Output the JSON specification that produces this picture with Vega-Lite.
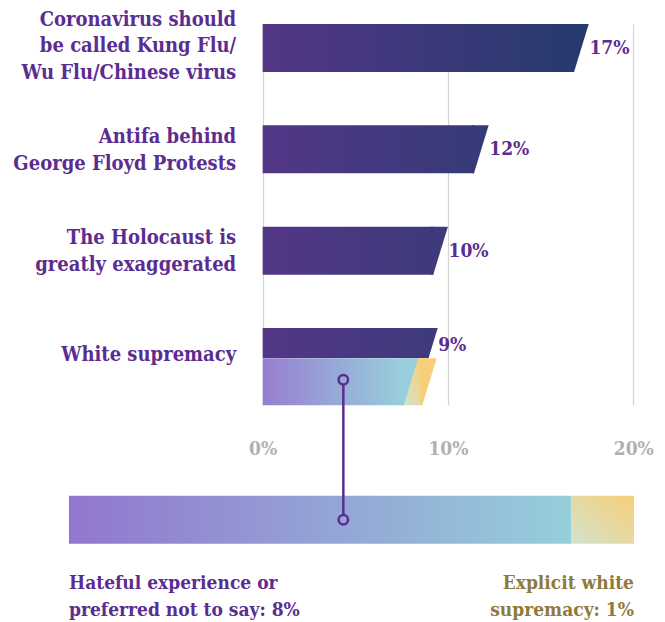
{
  "$schema": "https://vega.github.io/schema/vega-lite/v6.json",
  "background": "white",
  "padding": {"left": 5, "top": 9, "right": 5, "bottom": 5},
  "config": {"font": "DejaVu Serif Condensed", "view": {"stroke": null}},
  "bounds": "flush",
  "spacing": 90.7,
  "datasets": {
    "beliefs": [
      {"statement": "Coronavirus should\nbe called Kung Flu/\nWu Flu/Chinese virus", "pct": 17.2, "label": "17%"},
      {"statement": "Antifa behind\nGeorge Floyd Protests", "pct": 11.8, "label": "12%"},
      {"statement": "The Holocaust is\ngreatly exaggerated", "pct": 9.6, "label": "10%"},
      {"statement": "White supremacy", "pct": 9.2, "label": "9%"}
    ],
    "breakdown": [
      {"segment": "Hateful experience or preferred not to say", "pct": 8, "label": "Hateful experience or\npreferred not to say: 8%"},
      {"segment": "Explicit white supremacy", "pct": 1, "label": "Explicit white\nsupremacy: 1%"}
    ]
  },
  "vconcat": [
    {
      "width": 629,
      "height": 381,
      "layer": [
        {
          "data": {"name": "beliefs"},
          "transform": [{"filter": "datum.statement !== 'White supremacy'"}],
          "mark": {"type": "bar", "height": 48, "yOffset": -14.5, "xOffset": -7.3},
          "encoding": {
            "y": {
              "field": "statement", "type": "nominal", "sort": null,
              "scale": {
                "domain": ["Coronavirus should\nbe called Kung Flu/\nWu Flu/Chinese virus", "Antifa behind\nGeorge Floyd Protests", "The Holocaust is\ngreatly exaggerated", "White supremacy"],
                "paddingInner": 0.239, "paddingOuter": 0
              },
              "axis": {
                "orient": "left", "offset": -257.7, "title": null, "domain": false, "ticks": false,
                "labelPadding": 27, "labelFontSize": 20, "labelFontWeight": "bold", "labelColor": "#5b2d90",
                "labelLimit": 400, "labelLineHeight": 26.7,
                "labelOffset": {"condition": [
                  {"test": "length(split(datum.label, '\\n')) == 3", "value": -42.8},
                  {"test": "length(split(datum.label, '\\n')) == 2", "value": -27}
                ], "value": -11},
                "labelExpr": "split(datum.label, '\\n')"
              }
            },
            "x": {
              "field": "pct", "type": "quantitative",
              "scale": {"domain": [-13.907, 20.04], "nice": false, "zero": false},
              "axis": {
                "values": [0, 10, 20], "labelExpr": "datum.value + '%'", "title": null,
                "domain": false, "ticks": false, "grid": true, "gridColor": "#d4d4d4", "gridWidth": 1.2,
                "labelColor": "#b0b0b0", "labelFontSize": 19, "labelFontWeight": "bold", "labelPadding": 34, "labelFlush": false
              }
            },
            "x2": {"datum": 0},
            "color": {
              "condition": [
                {"test": "datum.pct > 15", "value": {"gradient": "linear", "x1": 0, "y1": 0, "x2": 1, "y2": 0, "stops": [{"offset": 0, "color": "#533687"}, {"offset": 1, "color": "#273a6e"}]}},
                {"test": "datum.pct > 11", "value": {"gradient": "linear", "x1": 0, "y1": 0, "x2": 1, "y2": 0, "stops": [{"offset": 0, "color": "#533687"}, {"offset": 1, "color": "#363b78"}]}}
              ],
              "value": {"gradient": "linear", "x1": 0, "y1": 0, "x2": 1, "y2": 0, "stops": [{"offset": 0, "color": "#533687"}, {"offset": 1, "color": "#3e3a7b"}]}
            }
          }
        },
        {
          "data": {"name": "beliefs"},
          "transform": [{"filter": "datum.statement !== 'White supremacy'"}],
          "mark": {"type": "point", "shape": "M-0.4,-1L0.306,-1L-0.306,1L-0.4,1Z", "size": 2304, "filled": true, "opacity": 1, "strokeWidth": 0, "yOffset": -14.5},
          "encoding": {
            "y": {"field": "statement", "type": "nominal"},
            "x": {"field": "pct", "type": "quantitative"},
            "color": {
              "condition": [
                {"test": "datum.pct > 15", "value": "#273a6e"},
                {"test": "datum.pct > 11", "value": "#363b78"}
              ],
              "value": "#3e3a7b"
            }
          }
        },
        {
          "data": {"name": "beliefs"},
          "transform": [{"filter": "datum.statement === 'White supremacy'"}],
          "mark": {"type": "bar", "height": 30, "yOffset": -23.4, "xOffset": -4.6,
            "color": {"gradient": "linear", "x1": 0, "y1": 0, "x2": 1, "y2": 0, "stops": [{"offset": 0, "color": "#533687"}, {"offset": 1, "color": "#3f3a7b"}]}},
          "encoding": {
            "y": {"field": "statement", "type": "nominal"},
            "x": {"field": "pct", "type": "quantitative"},
            "x2": {"datum": 0}
          }
        },
        {
          "data": {"name": "beliefs"},
          "transform": [{"filter": "datum.statement === 'White supremacy'"}],
          "mark": {"type": "point", "shape": "M-0.4,-1L0.306,-1L-0.306,1L-0.4,1Z", "size": 900, "filled": true, "opacity": 1, "strokeWidth": 0, "yOffset": -23.4, "color": "#3f3a7b"},
          "encoding": {
            "y": {"field": "statement", "type": "nominal"},
            "x": {"field": "pct", "type": "quantitative"}
          }
        },
        {
          "data": {"name": "breakdown"},
          "transform": [
            {"stack": "pct", "groupby": [], "as": ["p0", "p1"]},
            {"filter": "datum.segment === 'Explicit white supremacy'"}
          ],
          "mark": {"type": "bar", "height": 47, "yOffset": 15.2, "xOffset": -7.2, "x2Offset": -7.2,
            "color": {"gradient": "linear", "x1": 0, "y1": 1, "x2": 1, "y2": 0, "stops": [{"offset": 0, "color": "#d2e3cd"}, {"offset": 1, "color": "#f8cf77"}]}},
          "encoding": {
            "y": {"datum": "White supremacy", "type": "nominal"},
            "x": {"field": "p1", "type": "quantitative"},
            "x2": {"field": "p0"}
          }
        },
        {
          "data": {"name": "breakdown"},
          "transform": [
            {"stack": "pct", "groupby": [], "as": ["p0", "p1"]},
            {"filter": "datum.segment !== 'Explicit white supremacy'"}
          ],
          "mark": {"type": "bar", "height": 47, "yOffset": 15.2, "xOffset": -7.2,
            "color": {"gradient": "linear", "x1": 0, "y1": 0, "x2": 1, "y2": 0, "stops": [{"offset": 0, "color": "#977ed1"}, {"offset": 1, "color": "#97d0dc"}]}},
          "encoding": {
            "y": {"datum": "White supremacy", "type": "nominal"},
            "x": {"field": "p1", "type": "quantitative"},
            "x2": {"field": "p0"}
          }
        },
        {
          "data": {"name": "breakdown"},
          "transform": [
            {"stack": "pct", "groupby": [], "as": ["p0", "p1"]}
          ],
          "mark": {"type": "point", "shape": "M-0.4,-1L0.306,-1L-0.306,1L-0.4,1Z", "size": 2209, "filled": true, "opacity": 1, "strokeWidth": 0, "yOffset": 15.2},
          "encoding": {
            "y": {"datum": "White supremacy", "type": "nominal"},
            "x": {"field": "p1", "type": "quantitative"},
            "color": {"condition": {"test": "datum.segment === 'Explicit white supremacy'", "value": "#f5cf7a"}, "value": "#97d0dc"}
          }
        },
        {
          "data": {"name": "beliefs"},
          "transform": [{"filter": "datum.statement !== 'White supremacy'"}],
          "mark": {"type": "text", "align": "left", "baseline": "middle", "dx": 8, "yOffset": -14.5, "fontSize": 19, "fontWeight": "bold", "color": "#5b2d90"},
          "encoding": {
            "y": {"field": "statement", "type": "nominal"},
            "x": {"field": "pct", "type": "quantitative"},
            "text": {"field": "label"}
          }
        },
        {
          "data": {"name": "beliefs"},
          "transform": [{"filter": "datum.statement === 'White supremacy'"}],
          "mark": {"type": "text", "align": "left", "baseline": "middle", "dx": 5, "yOffset": -21.4, "fontSize": 19, "fontWeight": "bold", "color": "#5b2d90"},
          "encoding": {
            "y": {"field": "statement", "type": "nominal"},
            "x": {"field": "pct", "type": "quantitative"},
            "text": {"field": "label"}
          }
        }
      ]
    },
    {
      "width": 629,
      "height": 48,
      "data": {"name": "breakdown"},
      "transform": [{"stack": "pct", "groupby": [], "as": ["p0", "p1"]}],
      "layer": [
        {
          "transform": [{"filter": "datum.segment !== 'Explicit white supremacy'"}],
          "mark": {"type": "bar",
            "color": {"gradient": "linear", "x1": 0, "y1": 0, "x2": 1, "y2": 0, "stops": [{"offset": 0, "color": "#9276cf"}, {"offset": 1, "color": "#95cfdb"}]}},
          "encoding": {
            "y": {"datum": "breakdown", "type": "nominal", "scale": {"paddingInner": 0, "paddingOuter": 0}, "axis": null},
            "x": {"field": "p1", "type": "quantitative", "scale": {"domain": [-1.0195, 9], "nice": false, "zero": false}, "axis": null},
            "x2": {"field": "p0"}
          }
        },
        {
          "transform": [{"filter": "datum.segment === 'Explicit white supremacy'"}],
          "mark": {"type": "bar",
            "color": {"gradient": "linear", "x1": 0, "y1": 1, "x2": 1, "y2": 0, "stops": [{"offset": 0, "color": "#d2e3cd"}, {"offset": 1, "color": "#f8cf77"}]}},
          "encoding": {
            "y": {"datum": "breakdown", "type": "nominal"},
            "x": {"field": "p1", "type": "quantitative"},
            "x2": {"field": "p0"}
          }
        },
        {
          "data": {"values": [{"anchor": 4.37}]},
          "mark": {"type": "rule", "strokeWidth": 2.5, "color": "#5b2d90", "y2Offset": -140},
          "encoding": {
            "y": {"datum": "breakdown", "type": "nominal"},
            "y2": {"datum": "breakdown"},
            "x": {"field": "anchor", "type": "quantitative"}
          }
        },
        {
          "data": {"values": [{"anchor": 4.37}]},
          "mark": {"type": "point", "shape": "circle", "size": 90, "filled": true, "opacity": 1, "strokeWidth": 2.5, "stroke": "#5b2d90", "fill": "#95a9d6", "yOffset": -140},
          "encoding": {
            "y": {"datum": "breakdown", "type": "nominal"},
            "x": {"field": "anchor", "type": "quantitative"}
          }
        },
        {
          "data": {"values": [{"anchor": 4.37}]},
          "mark": {"type": "point", "shape": "circle", "size": 90, "filled": true, "opacity": 1, "strokeWidth": 2.5, "stroke": "#5b2d90", "fill": "#94a8d5"},
          "encoding": {
            "y": {"datum": "breakdown", "type": "nominal"},
            "x": {"field": "anchor", "type": "quantitative"}
          }
        },
        {
          "transform": [{"filter": "datum.segment !== 'Explicit white supremacy'"}],
          "mark": {"type": "text", "align": "left", "baseline": "alphabetic", "dy": 69.3, "lineBreak": "\n", "lineHeight": 26.7, "fontSize": 19, "fontWeight": "bold", "color": "#5b2d90"},
          "encoding": {
            "y": {"datum": "breakdown", "type": "nominal"},
            "x": {"field": "p0", "type": "quantitative"},
            "text": {"field": "label"}
          }
        },
        {
          "transform": [{"filter": "datum.segment === 'Explicit white supremacy'"}],
          "mark": {"type": "text", "align": "right", "baseline": "alphabetic", "dy": 69.3, "lineBreak": "\n", "lineHeight": 26.7, "fontSize": 19, "fontWeight": "bold", "color": "#8f7a3a"},
          "encoding": {
            "y": {"datum": "breakdown", "type": "nominal"},
            "x": {"field": "p1", "type": "quantitative"},
            "text": {"field": "label"}
          }
        }
      ]
    }
  ]
}
